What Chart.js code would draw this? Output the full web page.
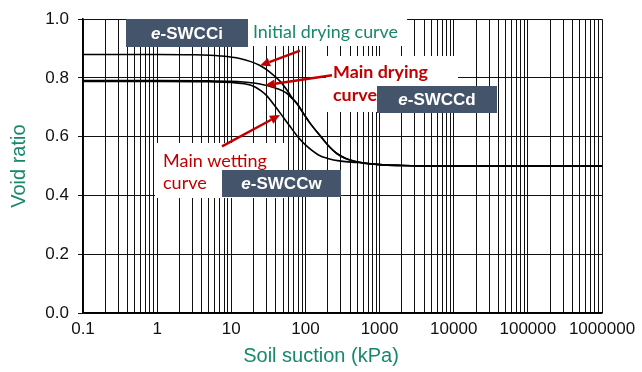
<!DOCTYPE html>
<html>
<head>
<meta charset="utf-8">
<script src="https://cdn.jsdelivr.net/npm/chart.js@4.4.1/dist/chart.umd.min.js"></script>
<style>
  html, body { margin: 0; padding: 0; background: #fff; }
  #wrap { width: 642px; height: 372px; }
</style>
</head>
<body>
<div id="wrap"><canvas id="chart"></canvas></div>
<script>
// soil suction (kPa) and void ratio
const initSuction = [0.1, 1, 3, 7, 13, 24, 35, 45, 56, 65, 77, 93, 114, 157, 200, 268, 350, 541, 1000, 2000, 5000, 1000000];
const initVoid    = [0.88, 0.88, 0.879, 0.875, 0.866, 0.843, 0.815, 0.79, 0.76, 0.735, 0.713, 0.681, 0.648, 0.604, 0.572, 0.542, 0.526, 0.513, 0.505, 0.502, 0.5, 0.5];

const dryingSuction = [0.1, 1, 5, 10, 20, 28, 40, 56, 65, 77, 93, 114, 157, 200, 268, 350, 541, 1000, 2000, 5000, 1000000];
const dryingVoid    = [0.791, 0.791, 0.79, 0.789, 0.783, 0.776, 0.765, 0.748, 0.732, 0.712, 0.681, 0.648, 0.604, 0.572, 0.542, 0.526, 0.513, 0.505, 0.502, 0.5, 0.5];

const wettingSuction = [0.1, 1, 5, 10, 15, 20, 25, 30, 40, 50, 60, 80, 100, 150, 200, 300, 500, 1000, 2000, 5000, 1000000];
const wettingVoid    = [0.788, 0.788, 0.787, 0.785, 0.78, 0.772, 0.757, 0.74, 0.7, 0.667, 0.64, 0.598, 0.572, 0.538, 0.526, 0.517, 0.512, 0.505, 0.502, 0.5, 0.5];

const decades = [0.1, 1, 10, 100, 1000, 10000, 100000, 1000000];

const GREEN = '#16886b';
const RED = '#c00000';
const SLATE = '#44546a';
const SANS = '"Liberation Sans", Arial, sans-serif';

const toPoints = (xs, ys) => xs.map((x, i) => ({ x: x, y: ys[i] }));

// every 1..9 multiple per decade gets a grid line
const gridValues = [];
decades.slice(0, -1).forEach(d => {
  for (let m = 1; m <= 9; m++) gridValues.push(m * d);
});
gridValues.push(decades[decades.length - 1]);

// annotation layout
const whiteBoxes = [
  [248, 16, 159, 30],
  [326, 56, 132, 56],
  [155, 143, 130, 55]
];
const tagBoxes = [
  { tail: '-SWCCi', x: 126, y: 19, w: 122, h: 28 },
  { tail: '-SWCCd', x: 377, y: 86, w: 120, h: 27 },
  { tail: '-SWCCw', x: 222, y: 170, w: 119, h: 27 }
];
const arrows = [
  { from: [84.5, 0.893], to: [24.4, 0.842] },
  { from: [228, 0.809], to: [28.5, 0.775] },
  { from: [7.5, 0.567], to: [45.4, 0.674] }
];

function fitSize(ctx, text, weight, family, width) {
  ctx.font = weight + ' 20px ' + family;
  return 20 * width / ctx.measureText(text).width;
}

function drawArrow(ctx, x1, y1, x2, y2) {
  const a = Math.atan2(y2 - y1, x2 - x1);
  const len = 10, half = 4.5;
  const bx = x2 - len * Math.cos(a), by = y2 - len * Math.sin(a);
  ctx.strokeStyle = RED;
  ctx.fillStyle = RED;
  ctx.lineWidth = 2.5;
  ctx.beginPath();
  ctx.moveTo(x1, y1);
  ctx.lineTo(bx, by);
  ctx.stroke();
  ctx.beginPath();
  ctx.moveTo(x2, y2);
  ctx.lineTo(bx + half * Math.sin(a), by - half * Math.cos(a));
  ctx.lineTo(bx - half * Math.sin(a), by + half * Math.cos(a));
  ctx.closePath();
  ctx.fill();
}

const annotations = {
  id: 'annotations',
  beforeDatasetsDraw(chart) {
    const ctx = chart.ctx;
    ctx.save();
    ctx.fillStyle = '#fff';
    whiteBoxes.forEach(b => ctx.fillRect(b[0], b[1], b[2], b[3]));
    ctx.restore();
  },
  afterDatasetsDraw(chart) {
    const ctx = chart.ctx;
    const xs = chart.scales.x, ys = chart.scales.y;
    ctx.save();

    // dark tags
    tagBoxes.forEach(t => {
      ctx.fillStyle = SLATE;
      ctx.fillRect(t.x, t.y, t.w, t.h);
      ctx.fillStyle = '#fff';
      ctx.textBaseline = 'middle';
      ctx.textAlign = 'left';
      ctx.font = 'italic bold 17px ' + SANS;
      const we = ctx.measureText('e').width;
      ctx.font = 'bold 17px ' + SANS;
      const wt = ctx.measureText(t.tail).width;
      const sx = t.x + (t.w - we - wt) / 2;
      const cy = t.y + t.h / 2 + 1;
      ctx.font = 'italic bold 17px ' + SANS;
      ctx.fillText('e', sx, cy);
      ctx.font = 'bold 17px ' + SANS;
      ctx.fillText(t.tail, sx + we, cy);
    });

    // callout texts
    const fam = 'Lato, "Open Sans", sans-serif';
    ctx.textBaseline = 'alphabetic';
    ctx.textAlign = 'left';
    let s = fitSize(ctx, 'Initial drying curve', 'normal', fam, 145);
    ctx.font = 'normal ' + s + 'px ' + fam;
    ctx.fillStyle = GREEN;
    ctx.fillText('Initial drying curve', 253, 38);

    s = fitSize(ctx, 'Main drying', 'bold', fam, 95);
    ctx.font = 'bold ' + s + 'px ' + fam;
    ctx.fillStyle = RED;
    ctx.fillText('Main drying', 333, 78);
    ctx.fillText('curve', 333, 101);

    s = fitSize(ctx, 'Main wetting', 'normal', fam, 104);
    ctx.font = 'normal ' + s + 'px ' + fam;
    ctx.fillText('Main wetting', 163, 167);
    ctx.fillText('curve', 163, 189);

    arrows.forEach(a => {
      drawArrow(ctx,
        xs.getPixelForValue(a.from[0]), ys.getPixelForValue(a.from[1]),
        xs.getPixelForValue(a.to[0]), ys.getPixelForValue(a.to[1]));
    });

    // x axis title
    ctx.font = '20px ' + SANS;
    ctx.fillStyle = GREEN;
    ctx.textAlign = 'center';
    ctx.textBaseline = 'middle';
    ctx.fillText('Soil suction (kPa)', 321, 356);
    ctx.restore();
  }
};

const lineStyle = {
  borderColor: '#000',
  borderWidth: 1.6,
  pointRadius: 0,
  fill: false,
  cubicInterpolationMode: 'monotone'
};

new Chart(document.getElementById('chart'), {
  type: 'line',
  data: {
    datasets: [
      Object.assign({ label: 'Initial drying curve', data: toPoints(initSuction, initVoid) }, lineStyle),
      Object.assign({ label: 'Main drying curve', data: toPoints(dryingSuction, dryingVoid) }, lineStyle),
      Object.assign({ label: 'Main wetting curve', data: toPoints(wettingSuction, wettingVoid) }, lineStyle)
    ]
  },
  options: {
    responsive: true,
    maintainAspectRatio: false,
    animation: false,
    events: [],
    layout: { padding: { left: 0, right: 40, top: 15, bottom: 0 } },
    scales: {
      x: {
        type: 'logarithmic',
        min: 0.1,
        max: 1000000,
        afterBuildTicks: scale => { scale.ticks = gridValues.map(v => ({ value: v })); },
        afterFit: scale => { scale.height = 59; },
        grid: { color: '#111', lineWidth: 1, drawTicks: false },
        border: { color: '#000', width: 1.5 },
        ticks: {
          autoSkip: false,
          maxRotation: 0,
          padding: 6,
          color: '#111',
          font: { family: SANS, size: 17 },
          callback: v => decades.includes(v) ? String(v) : ''
        },
        title: { display: false }
      },
      y: {
        min: 0,
        max: 1.0,
        afterFit: scale => { scale.width = 83; },
        grid: { color: '#111', lineWidth: 1, tickLength: 5 },
        border: { color: '#000', width: 1.5 },
        ticks: {
          stepSize: 0.2,
          padding: 9,
          color: '#111',
          font: { family: SANS, size: 17 },
          callback: v => v.toFixed(1)
        },
        title: {
          display: true,
          text: 'Void ratio',
          color: GREEN,
          padding: { top: 7, bottom: 0 },
          font: { family: SANS, size: 20 }
        }
      }
    },
    plugins: {
      legend: { display: false },
      tooltip: { enabled: false }
    }
  },
  plugins: [annotations]
});
</script>
</body>
</html>
